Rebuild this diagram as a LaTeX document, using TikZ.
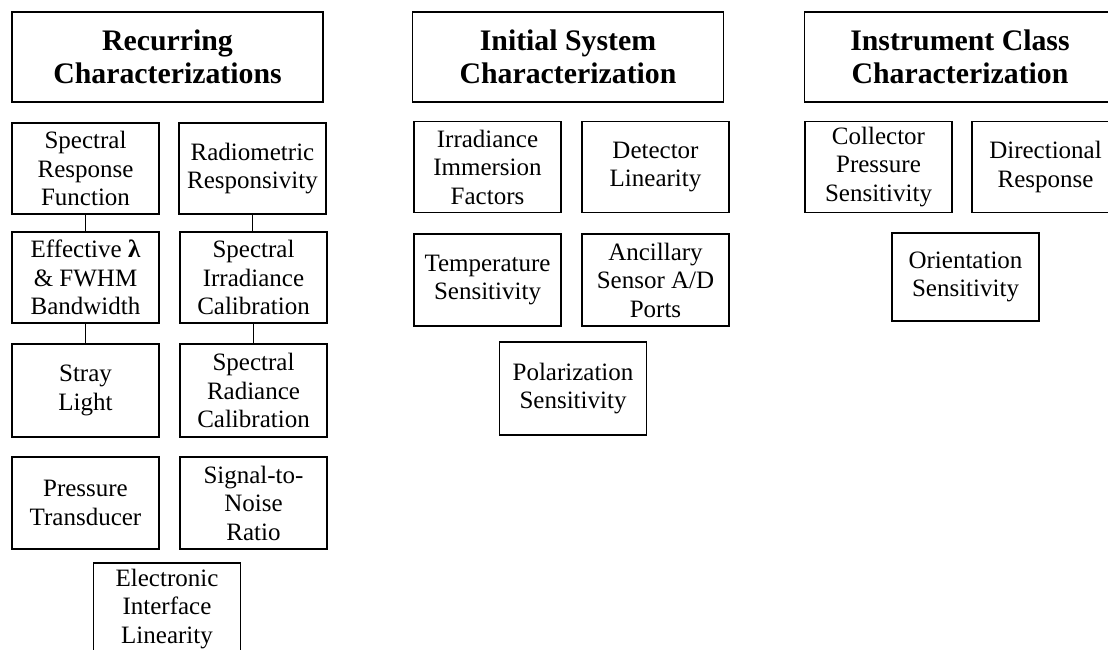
\documentclass[tikz,border=0pt]{standalone}
\usepackage{fontspec}
\setmainfont{Liberation Serif}
\usetikzlibrary{positioning}
\tikzset{
  itembox/.style={draw=black, line width=1.3pt, minimum width=147pt, minimum height=91pt, inner sep=0pt, align=center, font=\fontsize{25}{28.5}\selectfont, fill=none},
  headbox/.style={itembox, minimum width=311pt, minimum height=90pt, font=\fontsize{29.8}{33}\selectfont\bfseries},
  link/.style={draw=black, line width=1.3pt}
}

\begin{document}
\begin{tikzpicture}[x=1pt, y=-1pt]
  \useasboundingbox (0,0) rectangle (1108,649);
  % recurring
  \node[headbox] (rec) at (167.5,57) {Recurring\\Characterizations};
  \node[itembox] (srf) at (85.5,168.5) {Spectral\\Response\\Function};
  \node[itembox] (rr) at (252.5,168.5) {Radiometric\\Responsivity};
  \node[itembox] (eff) at (85.5,277.5) {Effective \textbf{λ}\\\& FWHM\\Bandwidth};
  \node[itembox] (sic) at (253.5,277.5) {Spectral\\Irradiance\\Calibration};
  \node[itembox, minimum height=93pt] (stray) at (85.5,390.5) {Stray\\Light};
  \node[itembox, minimum height=93pt] (src) at (253.5,390.5) {Spectral\\Radiance\\Calibration};
  \node[itembox, minimum height=92pt] (pt) at (85.5,503) {Pressure\\Transducer};
  \node[itembox, minimum height=92pt] (snr) at (253.5,503) {Signal-to-\\Noise\\Ratio};
  \node[itembox, minimum height=92pt] (eil) at (167,609) {Electronic\\Interface\\Linearity};
  \draw[link] (srf.south) -- (eff.north);
  \draw[link] (eff.south) -- (stray.north);
  \draw[link] (rr.south) -- (rr.south |- sic.north);
  \draw[link] (sic.south) -- (sic.south |- src.north);
  % initial system
  \node[headbox] (isc) at (568,57) {Initial System\\Characterization};
  \node[itembox] (iif) at (487.5,167) {Irradiance\\Immersion\\Factors};
  \node[itembox] (dl) at (655.5,167) {Detector\\Linearity};
  \node[itembox, minimum height=92pt] (ts) at (487.5,280) {Temperature\\Sensitivity};
  \node[itembox, minimum height=92pt] (asa) at (655.5,280) {Ancillary\\Sensor A/D\\Ports};
  \node[itembox, minimum height=93pt] (pol) at (573,388.5) {Polarization\\Sensitivity};
  % instrument class
  \node[headbox] (icc) at (960,57) {Instrument Class\\Characterization};
  \node[itembox] (cps) at (878.5,167) {Collector\\Pressure\\Sensitivity};
  \node[itembox] (dr) at (1045.5,167) {Directional\\Response};
  \node[itembox, minimum height=88pt] (os) at (965.5,277) {Orientation\\Sensitivity};
\end{tikzpicture}
\end{document}
